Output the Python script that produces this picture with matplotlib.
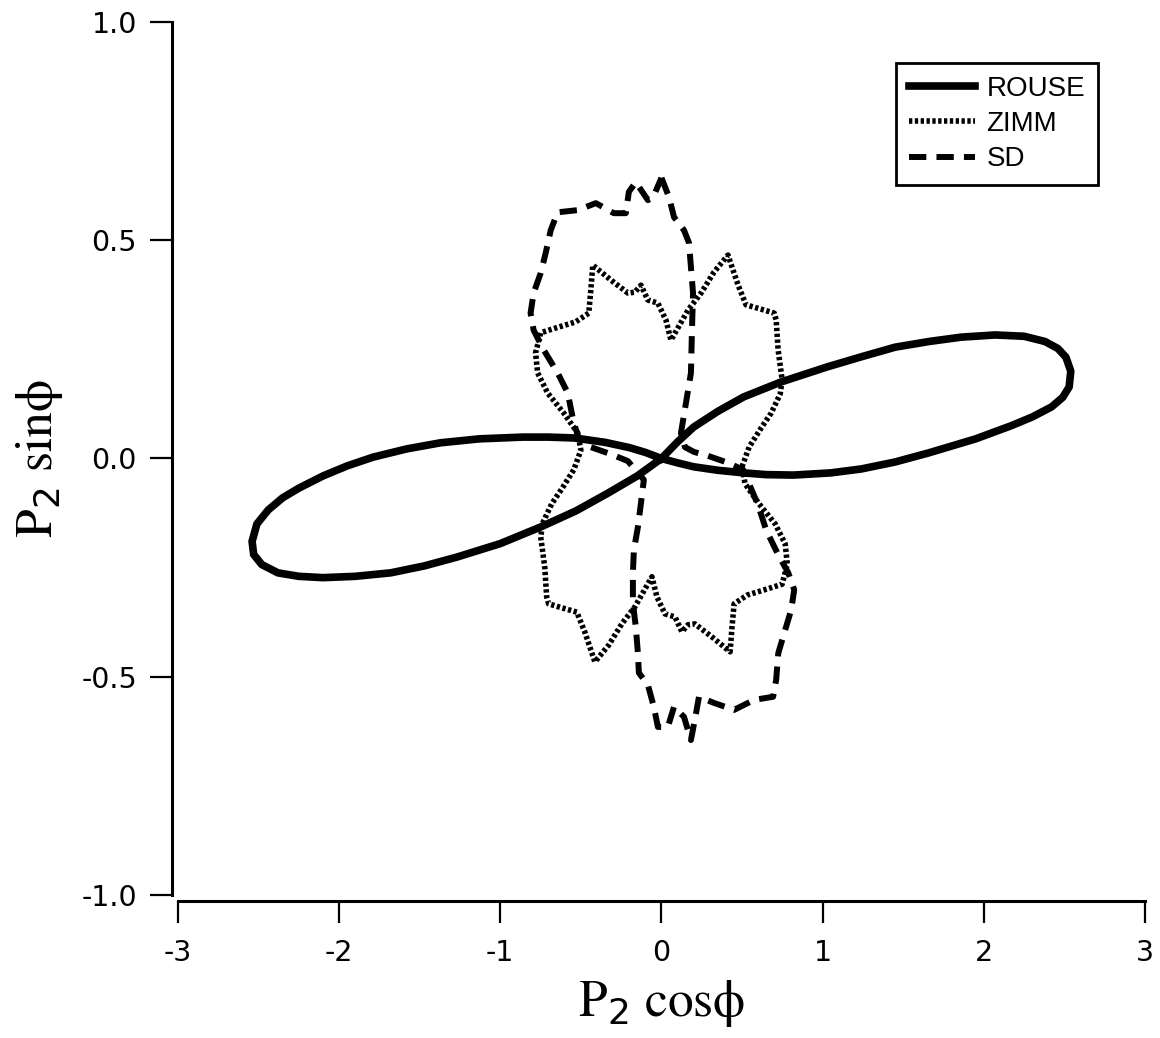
import numpy as np
from matplotlib import pyplot as plt

plt.rcParams['axes.unicode_minus'] = False

# ROUSE: figure-eight
rouse_x = [0.00, 0.10, 0.20, 0.35, 0.51, 0.74, 1.03, 1.25, 1.45, 1.66, 1.86, 2.07, 2.25, 2.38,
           2.46, 2.51, 2.54, 2.53, 2.49, 2.42, 2.30, 2.17, 1.95, 1.66, 1.45, 1.24, 1.05, 0.82,
           0.65, 0.51, 0.35, 0.20, 0.10, 0.00,
           -0.10, -0.20, -0.35, -0.54, -0.70, -0.86, -1.13, -1.37, -1.58, -1.79, -1.95, -2.10,
           -2.25, -2.35, -2.44, -2.51, -2.54, -2.53, -2.48, -2.38, -2.25, -2.10, -1.90, -1.68,
           -1.47, -1.27, -1.00, -0.75, -0.53, -0.33, -0.15, 0.00]
rouse_y = [0.000, 0.038, 0.072, 0.108, 0.141, 0.175, 0.210, 0.234, 0.255, 0.268, 0.278, 0.283,
           0.280, 0.268, 0.252, 0.232, 0.200, 0.164, 0.140, 0.118, 0.095, 0.075, 0.045, 0.013,
           -0.008, -0.024, -0.033, -0.038, -0.037, -0.033, -0.027, -0.019, -0.010, 0.000,
           0.014, 0.025, 0.037, 0.047, 0.049, 0.049, 0.045, 0.036, 0.022, 0.003, -0.017, -0.040,
           -0.068, -0.090, -0.118, -0.150, -0.190, -0.220, -0.243, -0.262, -0.270, -0.273, -0.270,
           -0.262, -0.246, -0.226, -0.195, -0.157, -0.120, -0.079, -0.040, 0.000]

# ZIMM: jagged closed curve
zimm_x = [0.500, 0.544, 0.619, 0.681, 0.737, 0.749, 0.724, 0.712, 0.700, 0.619, 0.525, 0.476,
          0.413, 0.326, 0.246, 0.165, 0.059, 0.028, -0.022, -0.084, -0.127, -0.165, -0.208,
          -0.314, -0.426, -0.438, -0.451, -0.532, -0.656, -0.749, -0.781, -0.768, -0.706,
          -0.606, -0.519, -0.500,
          -0.544, -0.619, -0.681, -0.737, -0.749, -0.724, -0.712, -0.700, -0.619, -0.525, -0.476,
          -0.413, -0.326, -0.246, -0.165, -0.059, -0.028, 0.022, 0.084, 0.127, 0.165, 0.208,
          0.314, 0.426, 0.438, 0.451, 0.532, 0.656, 0.749, 0.781, 0.768, 0.706,
          0.606, 0.519, 0.500]
zimm_y = [-0.019, 0.026, 0.070, 0.104, 0.148, 0.180, 0.249, 0.317, 0.333, 0.342, 0.352, 0.397,
          0.466, 0.427, 0.379, 0.340, 0.271, 0.317, 0.356, 0.363, 0.397, 0.381, 0.379,
          0.409, 0.443, 0.386, 0.333, 0.313, 0.299, 0.288, 0.242, 0.196, 0.150,
          0.104, 0.058, 0.019,
          -0.026, -0.070, -0.104, -0.148, -0.180, -0.249, -0.317, -0.333, -0.342, -0.352, -0.397,
          -0.466, -0.427, -0.379, -0.340, -0.271, -0.317, -0.356, -0.363, -0.397, -0.381, -0.379,
          -0.409, -0.443, -0.386, -0.333, -0.313, -0.299, -0.288, -0.242, -0.196, -0.150,
          -0.104, -0.058, -0.019]

# SD: dashed closed curve
sd_x = [0.000, 0.047, 0.078, 0.140, 0.171, 0.183, 0.196, 0.190, 0.183, 0.152, 0.121, 0.146,
        0.202, 0.289, 0.414, 0.507, 0.600, 0.650, 0.725, 0.787, 0.824, 0.805, 0.762, 0.725,
        0.712, 0.693, 0.575, 0.451, 0.326, 0.233, 0.215, 0.183, 0.140, 0.078, 0.040, -0.022,
        -0.047, -0.084, -0.140, -0.146, -0.159, -0.177, -0.177, -0.171, -0.146, -0.127, -0.109,
        -0.208, -0.314, -0.438, -0.513, -0.544, -0.581, -0.644, -0.731, -0.793, -0.812, -0.793,
        -0.749, -0.718, -0.687, -0.644, -0.519, -0.407, -0.295, -0.221, -0.202, -0.159, -0.084,
        -0.053, 0.000]
sd_y = [0.643, 0.599, 0.553, 0.523, 0.494, 0.439, 0.379, 0.301, 0.196, 0.127, 0.058, 0.026,
        0.015, 0.006, -0.010, -0.026, -0.107, -0.164, -0.221, -0.262, -0.301, -0.347, -0.400, -0.446,
        -0.507, -0.546, -0.553, -0.576, -0.560, -0.546, -0.583, -0.645, -0.592, -0.569, -0.615, -0.615,
        -0.569, -0.519, -0.491, -0.446, -0.386, -0.331, -0.262, -0.210, -0.157, -0.102, -0.049,
        -0.006, 0.010, 0.026, 0.047, 0.081, 0.150, 0.196, 0.249, 0.294, 0.333, 0.379,
        0.425, 0.471, 0.523, 0.564, 0.569, 0.585, 0.562, 0.562, 0.611, 0.633, 0.592,
        0.597, 0.643]

x_ticks = [-3, -2, -1, 0, 1, 2, 3]
y_ticks = [-1.0, -0.5, 0.0, 0.5, 1.0]
y_ticklabels = ['-1.0', '-0.5', '0.0', '0.5', '1.0']

fig = plt.figure(figsize=(11.6, 10.38), dpi=100)
ax = fig.add_axes([0.1534, 0.1378, 0.8336, 0.8410])

ax.plot(rouse_x, rouse_y, color='black', lw=5.5, solid_joinstyle='round', label='ROUSE')
ax.plot(zimm_x, zimm_y, color='black', lw=4.0, linestyle=(0, (0.6, 0.45)), label='ZIMM')
ax.plot(sd_x, sd_y, color='black', lw=4.3, linestyle=(0, (2.9, 1.7)), label='SD')

ax.set_xlim(-3, 3)
ax.set_ylim(-1, 1)

for side in ['top', 'right']:
    ax.spines[side].set_visible(False)
for side in ['left', 'bottom']:
    ax.spines[side].set_linewidth(2.2)
    ax.spines[side].set_position(('outward', 4.5))

ax.set_xticks(x_ticks)
ax.set_xticklabels([str(t) for t in x_ticks])
ax.set_yticks(y_ticks)
ax.set_yticklabels(y_ticklabels)
ax.tick_params(axis='both', direction='out', length=16, width=1.6, labelsize=20.5)
ax.tick_params(axis='x', pad=11)
ax.tick_params(axis='y', pad=9)

ax.set_xlabel('P$_2$ cos\u03d5', fontfamily='STIXGeneral', fontsize=37, labelpad=8)
ax.set_ylabel('P$_2$ sin\u03d5', fontfamily='STIXGeneral', fontsize=37, labelpad=12)

leg = ax.legend(loc='upper right', bbox_to_anchor=(0.951, 0.953), frameon=True, fancybox=False,
                edgecolor='black', framealpha=1, handlelength=2.4, handletextpad=0.4,
                labelspacing=0.34, borderpad=0.45, borderaxespad=0,
                prop={'family': 'Liberation Sans', 'size': 20})
leg.get_frame().set_linewidth(2)

fig.savefig('out.png', dpi=100)
